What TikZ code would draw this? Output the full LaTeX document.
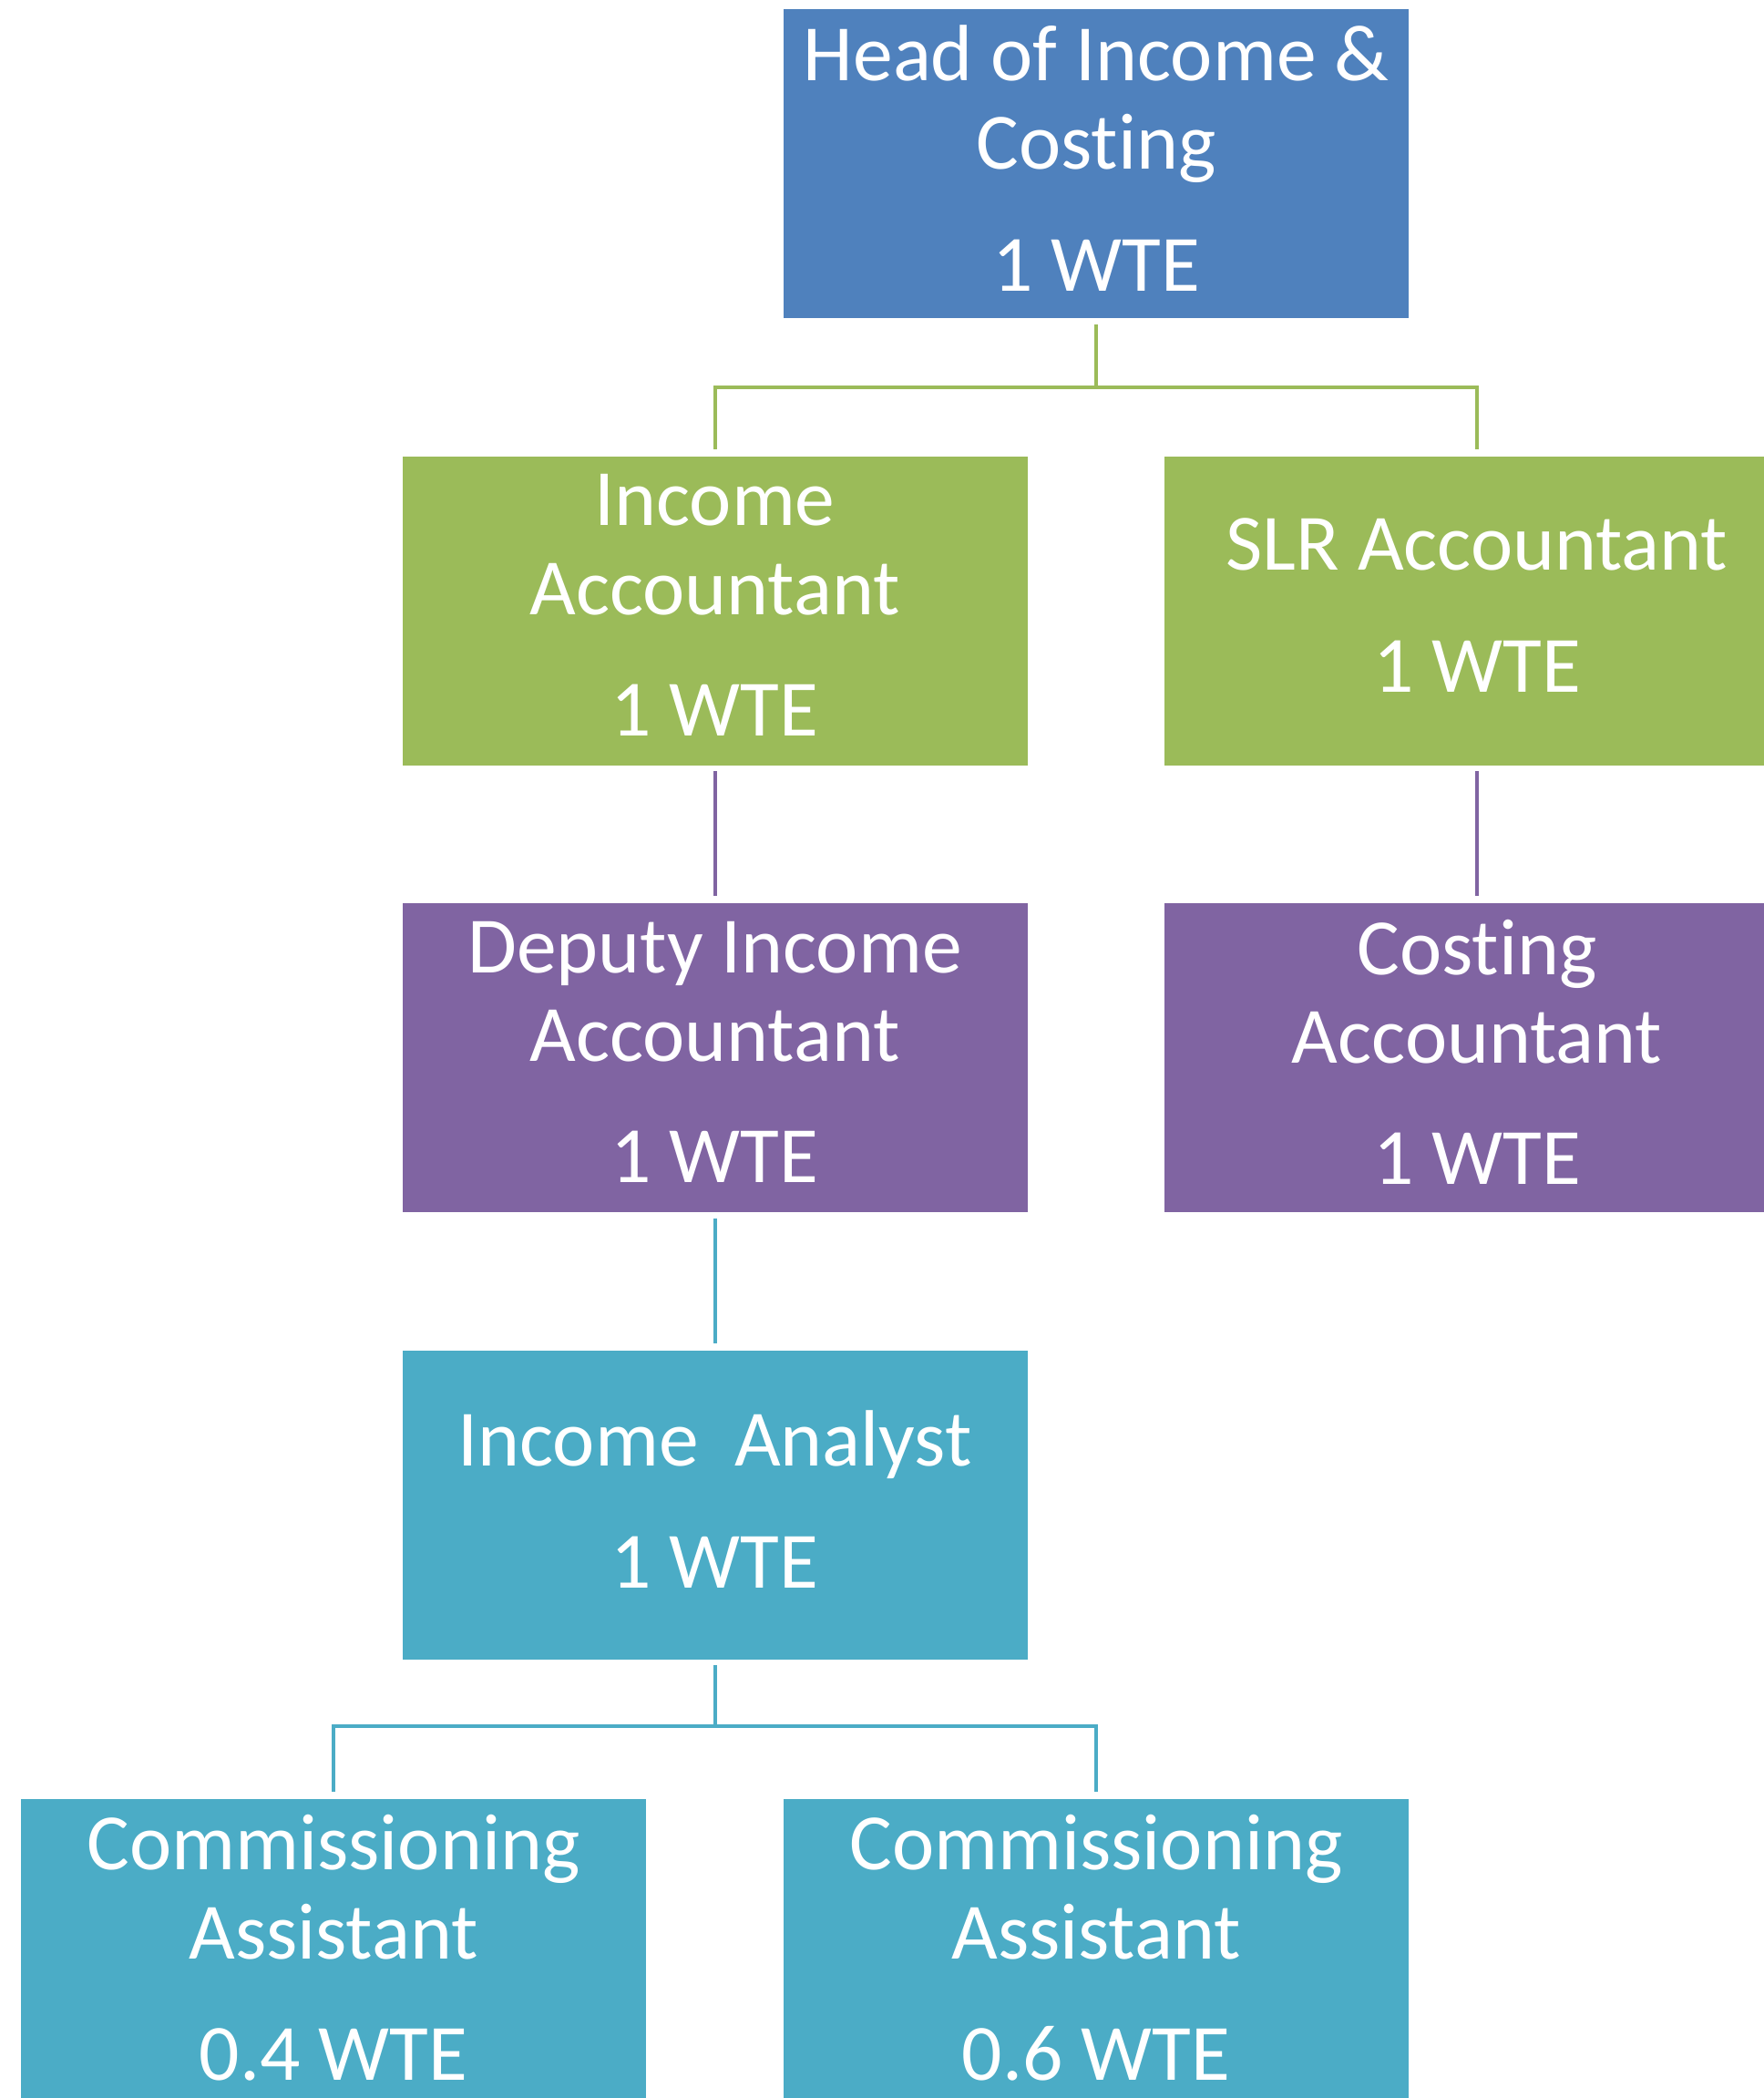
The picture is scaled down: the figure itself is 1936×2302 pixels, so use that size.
\documentclass[tikz,border=0pt]{standalone}
\usepackage{fontspec}
\setmainfont[Ligatures=NoCommon]{Carlito}
\definecolor{cblue}{HTML}{4F81BD}
\definecolor{cgreen}{HTML}{9BBB59}
\definecolor{cpurple}{HTML}{8064A2}
\definecolor{cteal}{HTML}{4BACC6}
\begin{document}
\begin{tikzpicture}[x=0.25pt,y=-0.25pt,
  box/.style={rectangle, inner sep=0pt, minimum width=171.5pt, minimum height=84.75pt,
    text depth=3pt, text=white, align=center, font=\fontsize{21.9pt}{24.3pt}\selectfont},
  conn/.style={line width=1pt}]
\useasboundingbox (0,0) rectangle (1936,2302);
\node[box, fill=cblue] (head) at (1203,179.5) {Head of Income \&\\Costing\\[9pt]1 WTE};
\node[box, fill=cgreen] (inc) at (784.5,670) {Income\\Accountant\\[9pt]1 WTE};
\node[box, fill=cgreen] (slr) at (1621,670) {SLR Accountant\\[9pt]1 WTE};
\node[box, fill=cpurple] (dep) at (784.5,1160.5) {Deputy Income\\Accountant\\[9pt]1 WTE};
\node[box, fill=cpurple] (cost) at (1621,1160.5) {Costing\\Accountant\\[9pt]1 WTE};
\node[box, fill=cteal] (ana) at (784.5,1651) {Income\ \ Analyst\\[9pt]1 WTE};
\node[box, fill=cteal] (ca1) at (366,2143) {Commissioning\\Assistant\\[9pt]0.4 WTE};
\node[box, fill=cteal] (ca2) at (1203,2143) {Commissioning\\Assistant\\[9pt]0.6 WTE};
\coordinate (j1) at (1203,425);
\coordinate (j2) at (784.5,1894);
\draw[conn, cgreen] ([yshift=-1.5pt]head.south) -- (j1);
\draw[conn, cgreen] ([yshift=1.75pt]inc.north) |- (j1) -| ([yshift=1.75pt]slr.north);
\draw[conn, cpurple] ([yshift=-1.5pt]inc.south) -- ([yshift=1.75pt]dep.north);
\draw[conn, cpurple] ([yshift=-1.5pt]slr.south) -- ([yshift=1.75pt]cost.north);
\draw[conn, cteal] ([yshift=-1.5pt]dep.south) -- ([yshift=1.75pt]ana.north);
\draw[conn, cteal] ([yshift=-1.5pt]ana.south) -- (j2);
\draw[conn, cteal] ([yshift=1.75pt]ca1.north) |- (j2) -| ([yshift=1.75pt]ca2.north);
\end{tikzpicture}
\end{document}
